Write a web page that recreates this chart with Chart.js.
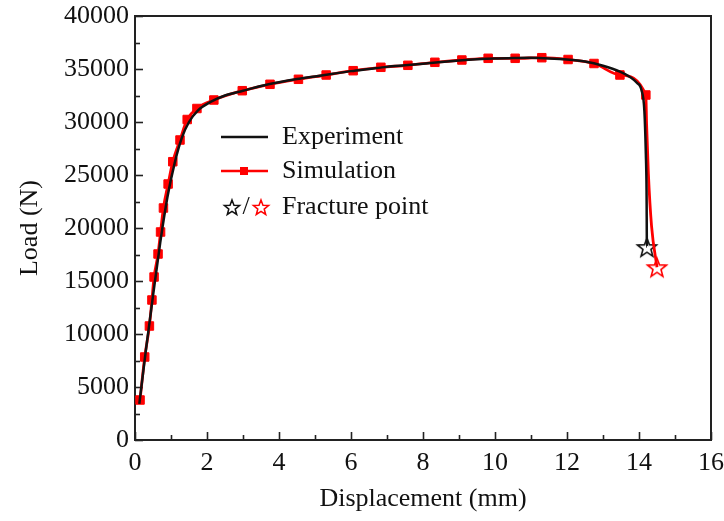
<!DOCTYPE html>
<html lang="en">
<head>
    <meta charset="UTF-8">
    <title>Load - Displacement</title>
    <style>
        body {
            margin: 0;
            background: #fff;
        }
        #loadChart {
            display: block;
        }
    </style>
</head>
<body>
    <canvas id="loadChart" width="724" height="521"></canvas>

    <script src="https://cdn.jsdelivr.net/npm/chart.js"></script>
    <script>
        // Experiment curve (mm, N)
        const expDisp = [0.12, 0.3, 0.5, 0.7, 0.9, 1.1, 1.3, 1.5, 1.75, 2.1, 2.5, 3.0, 3.5, 4.0, 4.5, 5.0, 5.5, 6.0, 6.5, 7.0,
            7.5, 8.0, 8.5, 9.0, 9.5, 10.0, 10.5, 11.0, 11.5, 12.0, 12.5, 13.0, 13.47, 13.75, 13.94, 14.07, 14.15, 14.19, 14.21, 14.22];
        const expLoad = [3400, 8400, 13600, 18600, 22900, 26100, 28500, 30000, 31100, 31900, 32500, 32950, 33400, 33750, 34050, 34300, 34550, 34800, 35000, 35200,
            35350, 35500, 35650, 35800, 35920, 36000, 36030, 36050, 36000, 35900, 35700, 35300, 34750, 34250, 33700, 33000, 31000, 27000, 23500, 18200];

        // Simulation curve: marked points, then the unmarked drop to fracture
        const simDisp = [0.14, 0.27, 0.40, 0.47, 0.53, 0.64, 0.71, 0.79, 0.92, 1.05, 1.25, 1.45, 1.72, 2.19, 2.98, 3.75, 4.54, 5.31, 6.06, 6.83,
            7.58, 8.33, 9.08, 9.81, 10.56, 11.30, 12.03, 12.75, 13.47, 14.19];
        const simLoad = [3774, 7830, 10755, 13208, 15377, 17547, 19623, 21887, 24151, 26255, 28302, 30236, 31274, 32075, 32953, 33557, 34028, 34434, 34840, 35160,
            35349, 35632, 35849, 36009, 36009, 36066, 35896, 35519, 34434, 32547];
        const simTailDisp = [14.21, 14.26, 14.35];
        const simTailLoad = [29880, 25160, 20120];

        // Fracture points [displacement, load]
        const expFracture = [14.22, 18200];
        const simFracture = [14.50, 16300];

        const xTicks = [0, 2, 4, 6, 8, 10, 12, 14, 16];
        const yTicks = [0, 5000, 10000, 15000, 20000, 25000, 30000, 35000, 40000];

        const FONT = "'Liberation Serif', 'Times New Roman', serif";

        function toPoints(xs, ys) {
            return xs.map((x, i) => ({ x: x, y: ys[i] }));
        }

        // hollow five-point star used as a point style
        function drawStar(g, cx, cy, r, color, lw) {
            g.beginPath();
            for (let i = 0; i < 10; i++) {
                const a = -Math.PI / 2 + i * Math.PI / 5;
                const rr = i % 2 === 0 ? r : r * 0.42;
                const px = cx + rr * Math.cos(a);
                const py = cy + rr * Math.sin(a);
                if (i === 0) g.moveTo(px, py); else g.lineTo(px, py);
            }
            g.closePath();
            g.fillStyle = '#fff';
            g.fill();
            g.lineWidth = lw;
            g.strokeStyle = color;
            g.stroke();
        }

        function starImage(color, r, lw) {
            const size = Math.ceil(2 * r + 2 * lw + 2);
            const c = document.createElement('canvas');
            c.width = size;
            c.height = size;
            drawStar(c.getContext('2d'), size / 2, size / 2 + r * 0.1, r, color, lw);
            return c;
        }

        const expLine = toPoints(expDisp, expLoad).concat([{ x: expFracture[0], y: expFracture[1] }]);
        const simLine = toPoints(simDisp, simLoad)
            .concat(toPoints(simTailDisp, simTailLoad))
            .concat([{ x: simFracture[0], y: simFracture[1] }]);

        // frame and inward tick marks (major + minor)
        const frameTicks = {
            id: 'frameTicks',
            beforeDatasetsDraw(chart) {
                const { ctx, chartArea } = chart;
                const xs = chart.scales.x, ys = chart.scales.y;
                ctx.save();
                ctx.strokeStyle = '#222';
                ctx.lineWidth = 2;
                ctx.strokeRect(chartArea.left, chartArea.top, chartArea.right - chartArea.left, chartArea.bottom - chartArea.top);
                ctx.lineWidth = 1.6;
                for (let v = xs.min; v <= xs.max; v += 1) {
                    const px = Math.round(xs.getPixelForValue(v)) + 0.5;
                    const len = v % 2 === 0 ? 8 : 5;
                    ctx.beginPath();
                    ctx.moveTo(px, chartArea.bottom);
                    ctx.lineTo(px, chartArea.bottom - len);
                    ctx.stroke();
                }
                for (let v = ys.min; v <= ys.max; v += 2500) {
                    const py = Math.round(ys.getPixelForValue(v)) + 0.5;
                    const len = v % 5000 === 0 ? 8 : 5;
                    ctx.beginPath();
                    ctx.moveTo(chartArea.left, py);
                    ctx.lineTo(chartArea.left + len, py);
                    ctx.stroke();
                }
                ctx.restore();
            }
        };

        // legend box inside the plot
        const innerLegend = {
            id: 'innerLegend',
            afterDraw(chart) {
                const ctx = chart.ctx;
                const x0 = 221, x1 = 268, tx = 282;
                const rows = [137, 171, 207];
                ctx.save();
                ctx.lineWidth = 2.5;
                ctx.strokeStyle = '#111';
                ctx.beginPath();
                ctx.moveTo(x0, rows[0]);
                ctx.lineTo(x1, rows[0]);
                ctx.stroke();
                ctx.strokeStyle = '#f00';
                ctx.beginPath();
                ctx.moveTo(x0, rows[1]);
                ctx.lineTo(x1, rows[1]);
                ctx.stroke();
                ctx.fillStyle = '#f00';
                ctx.fillRect(240, rows[1] - 4, 8, 8);
                drawStar(ctx, 232, rows[2] + 1, 8, '#111', 1.5);
                drawStar(ctx, 261, rows[2] + 1, 8, '#f00', 1.5);

                ctx.font = '26px ' + FONT;
                ctx.fillStyle = '#111';
                ctx.textBaseline = 'middle';
                ctx.textAlign = 'center';
                ctx.fillText('/', 246, rows[2]);
                ctx.textAlign = 'left';
                ctx.fillText('Experiment', tx, rows[0]);
                ctx.fillText('Simulation', tx, rows[1]);
                ctx.fillText('Fracture point', tx, rows[2]);
                ctx.restore();
            }
        };

        const markerCount = simDisp.length;

        new Chart(document.getElementById('loadChart'), {
            type: 'line',
            data: {
                datasets: [
                    {
                        label: 'Experiment',
                        data: expLine,
                        borderColor: '#111',
                        borderWidth: 2.5,
                        pointRadius: 0,
                        cubicInterpolationMode: 'monotone',
                        fill: false
                    },
                    {
                        label: 'Simulation',
                        data: simLine,
                        borderColor: '#f00',
                        backgroundColor: '#f00',
                        borderWidth: 2.8,
                        pointStyle: 'rect',
                        pointRadius: ctx => ctx.dataIndex < markerCount ? 6 : 0,
                        pointBorderWidth: 1,
                        cubicInterpolationMode: 'monotone',
                        fill: false
                    },
                    {
                        label: 'Fracture (exp)',
                        data: [{ x: expFracture[0], y: expFracture[1] }],
                        showLine: false,
                        pointStyle: starImage('#111', 10, 1.6),
                        pointRadius: 10
                    },
                    {
                        label: 'Fracture (sim)',
                        data: [{ x: simFracture[0], y: simFracture[1] }],
                        showLine: false,
                        pointStyle: starImage('#f00', 10, 1.6),
                        pointRadius: 10
                    }
                ]
            },
            options: {
                responsive: false,
                animation: false,
                layout: {
                    padding: 0
                },
                plugins: {
                    legend: { display: false },
                    tooltip: { enabled: false }
                },
                scales: {
                    x: {
                        type: 'linear',
                        min: 0,
                        max: 16,
                        afterFit: s => {
                            s.height = 81;
                            s.paddingLeft = 0;
                            s.paddingRight = 13;
                        },
                        afterBuildTicks: s => { s.ticks = xTicks.map(v => ({ value: v })); },
                        grid: { display: false, drawTicks: false },
                        border: { display: false },
                        ticks: {
                            padding: 8,
                            color: '#111',
                            maxRotation: 0,
                            font: { family: FONT, size: 26 },
                            callback: v => String(v)
                        },
                        title: {
                            display: true,
                            text: 'Displacement (mm)',
                            color: '#111',
                            font: { family: FONT, size: 26 },
                            padding: { top: 0, bottom: 6 }
                        }
                    },
                    y: {
                        min: 0,
                        max: 40000,
                        afterFit: s => {
                            s.width = 135;
                            s.paddingTop = 16;
                            s.paddingBottom = 0;
                        },
                        afterBuildTicks: s => { s.ticks = yTicks.map(v => ({ value: v })); },
                        grid: { display: false, drawTicks: false },
                        border: { display: false },
                        ticks: {
                            padding: 6,
                            color: '#111',
                            font: { family: FONT, size: 26 },
                            callback: v => String(v)
                        },
                        title: {
                            display: true,
                            text: 'Load (N)',
                            color: '#111',
                            font: { family: FONT, size: 26 },
                            padding: { top: 15, bottom: 0 }
                        }
                    }
                }
            },
            plugins: [frameTicks, innerLegend]
        });
    </script>
</body>
</html>
